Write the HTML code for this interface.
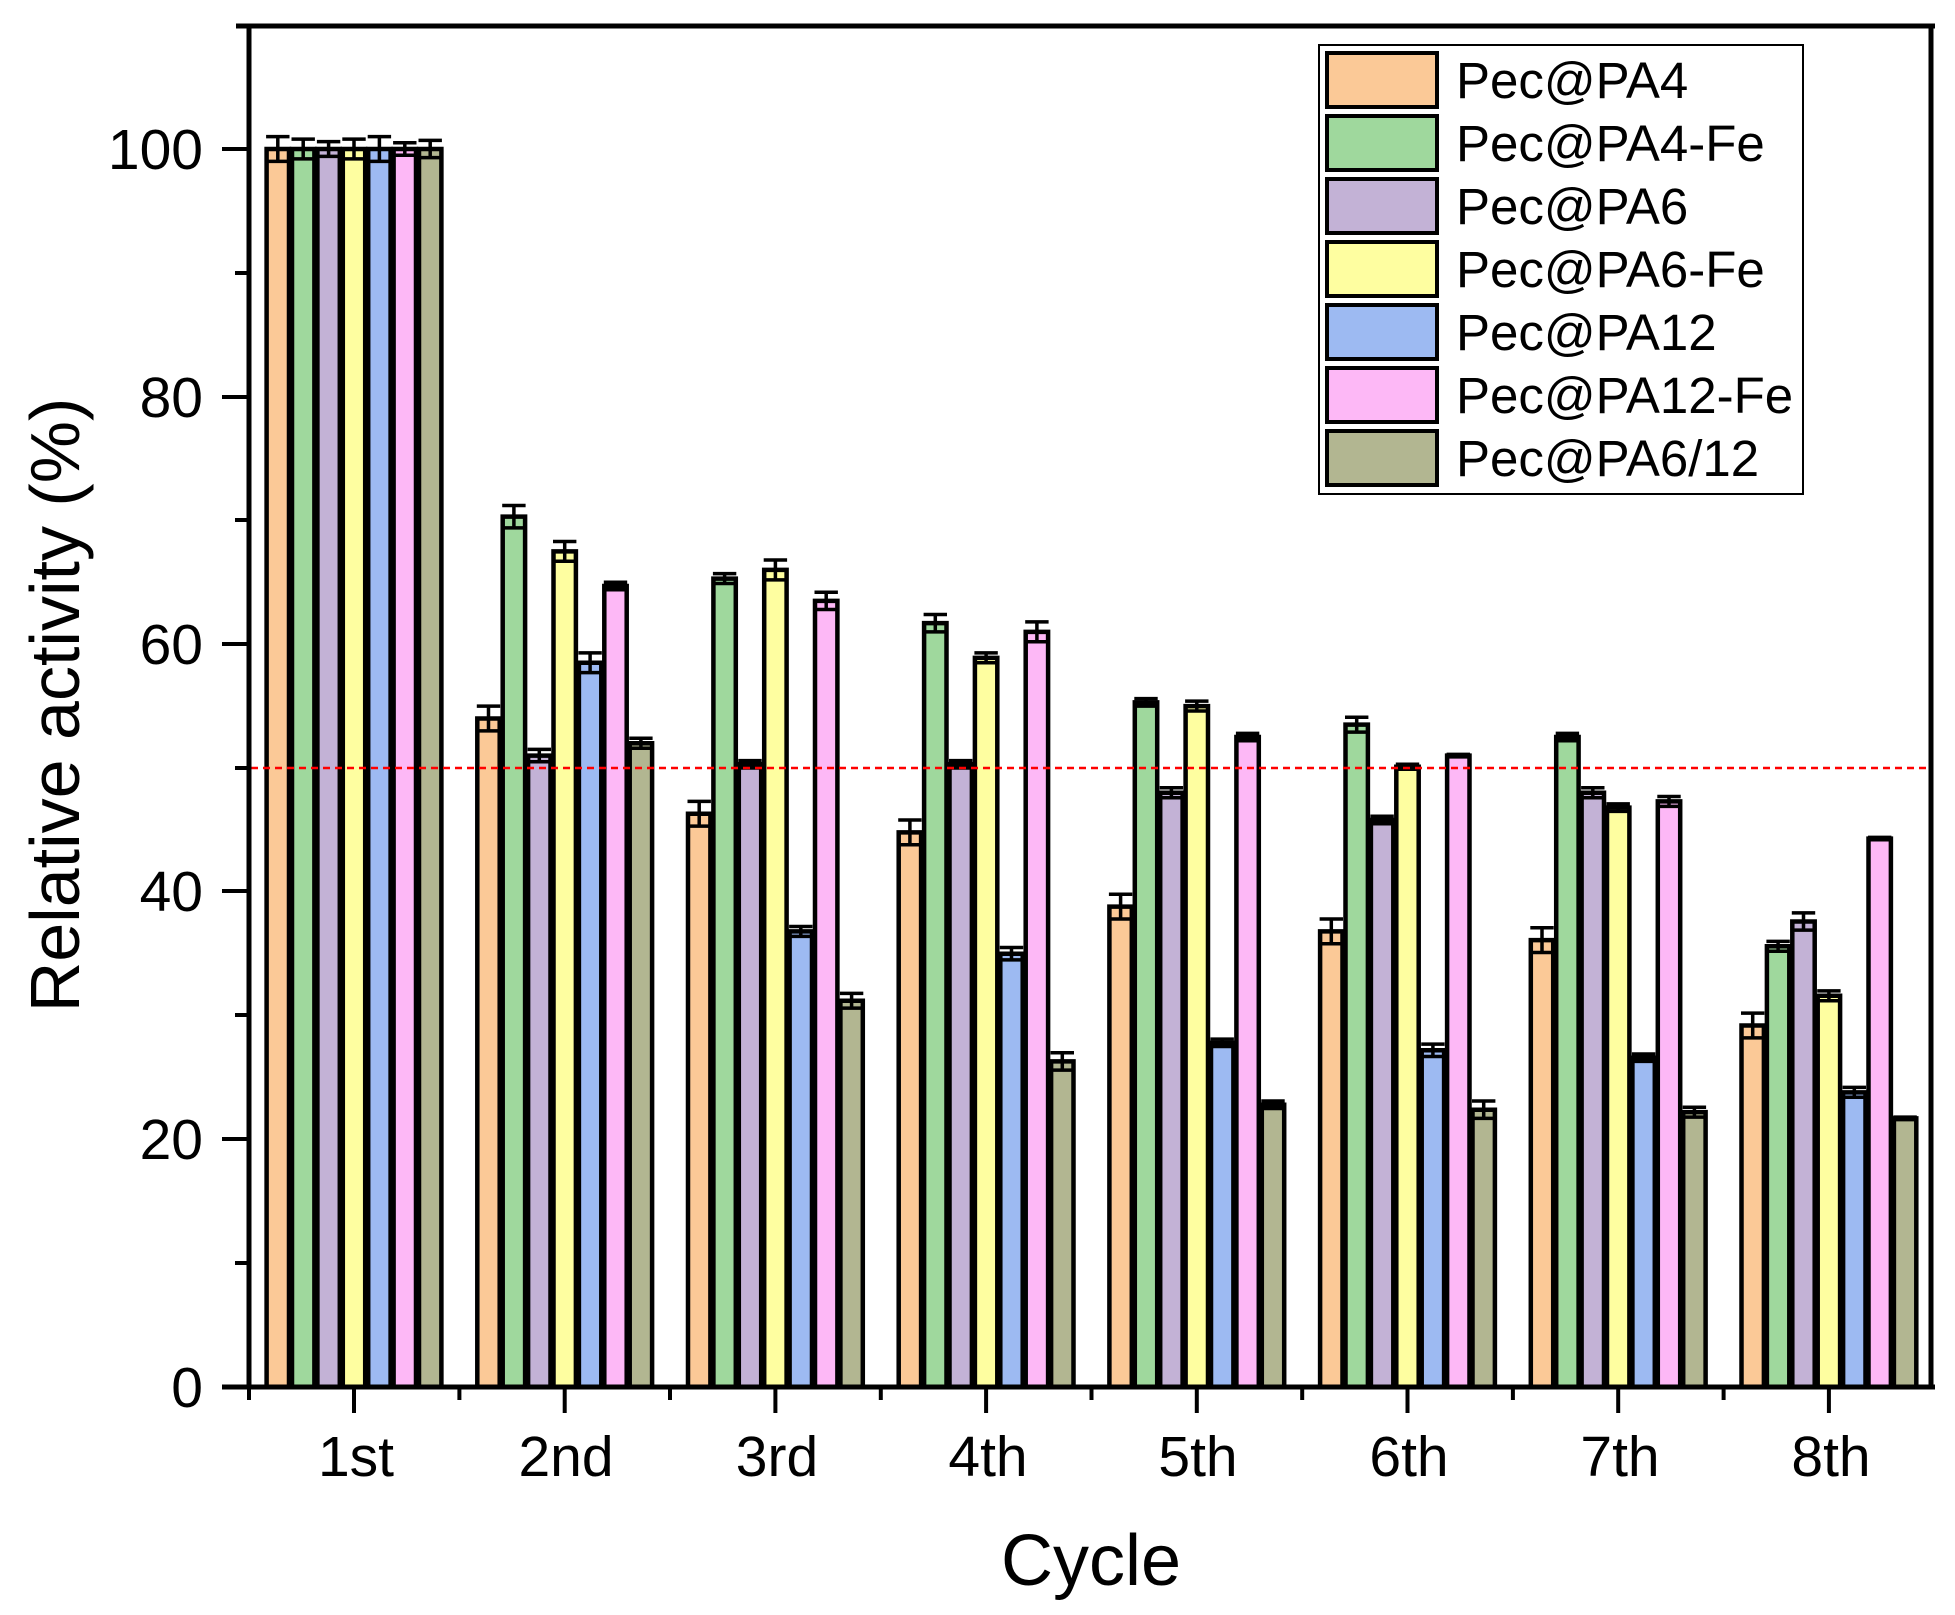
<!DOCTYPE html>
<html><head><meta charset="utf-8"><style>
html,body{margin:0;padding:0;background:#fff;}
svg{display:block;font-family:"Liberation Sans",Arial,sans-serif;}
.b rect{stroke:#000;stroke-width:4.5;vector-effect:non-scaling-stroke;}
.b path{stroke:#000;stroke-width:3.5;fill:none;vector-effect:non-scaling-stroke;}
.a{fill:#fbc997}.c{fill:#9fd89d}.d{fill:#c3b2d6}.e{fill:#fefea0}.f{fill:#9dbaf2}.g{fill:#fdb8f6}.h{fill:#b2b691}
</style></head><body>
<svg width="1955" height="1615" viewBox="0 0 1955 1615" xmlns="http://www.w3.org/2000/svg">
<g class="b">
<g transform="translate(265.1,1387) scale(1,-12.38)">
<g class="a"><rect x="1.5" y="0" width="22.4" height="100"/><path d="M12.7 99V101M1 101H24.4M1 99H24.4"/></g>
<g class="c" transform="translate(25.4,0)"><rect x="1.5" y="0" width="22.4" height="100"/><path d="M12.7 99.2V100.8M1 100.8H24.4M1 99.2H24.4"/></g>
<g class="d" transform="translate(50.8,0)"><rect x="1.5" y="0" width="22.4" height="100"/><path d="M12.7 99.4V100.6M1 100.6H24.4M1 99.4H24.4"/></g>
<g class="e" transform="translate(76.2,0)"><rect x="1.5" y="0" width="22.4" height="100"/><path d="M12.7 99.2V100.8M1 100.8H24.4M1 99.2H24.4"/></g>
<g class="f" transform="translate(101.6,0)"><rect x="1.5" y="0" width="22.4" height="100"/><path d="M12.7 99V101M1 101H24.4M1 99H24.4"/></g>
<g class="g" transform="translate(127,0)"><rect x="1.5" y="0" width="22.4" height="100"/><path d="M12.7 99.5V100.5M1 100.5H24.4M1 99.5H24.4"/></g>
<g class="h" transform="translate(152.4,0)"><rect x="1.5" y="0" width="22.4" height="100"/><path d="M12.7 99.3V100.7M1 100.7H24.4M1 99.3H24.4"/></g>
</g>
<g transform="translate(475.8,1387) scale(1,-12.38)">
<g class="a"><rect x="1.5" y="0" width="22.4" height="54"/><path d="M12.7 53V55M1 55H24.4M1 53H24.4"/></g>
<g class="c" transform="translate(25.4,0)"><rect x="1.5" y="0" width="22.4" height="70.3"/><path d="M12.7 69.4V71.2M1 71.2H24.4M1 69.4H24.4"/></g>
<g class="d" transform="translate(50.8,0)"><rect x="1.5" y="0" width="22.4" height="51"/><path d="M12.7 50.5V51.5M1 51.5H24.4M1 50.5H24.4"/></g>
<g class="e" transform="translate(76.2,0)"><rect x="1.5" y="0" width="22.4" height="67.5"/><path d="M12.7 66.7V68.3M1 68.3H24.4M1 66.7H24.4"/></g>
<g class="f" transform="translate(101.6,0)"><rect x="1.5" y="0" width="22.4" height="58.5"/><path d="M12.7 57.7V59.3M1 59.3H24.4M1 57.7H24.4"/></g>
<g class="g" transform="translate(127,0)"><rect x="1.5" y="0" width="22.4" height="64.7"/><path d="M12.7 64.4V65M1 65H24.4M1 64.4H24.4"/></g>
<g class="h" transform="translate(152.4,0)"><rect x="1.5" y="0" width="22.4" height="52"/><path d="M12.7 51.6V52.4M1 52.4H24.4M1 51.6H24.4"/></g>
</g>
<g transform="translate(686.5,1387) scale(1,-12.38)">
<g class="a"><rect x="1.5" y="0" width="22.4" height="46.3"/><path d="M12.7 45.3V47.3M1 47.3H24.4M1 45.3H24.4"/></g>
<g class="c" transform="translate(25.4,0)"><rect x="1.5" y="0" width="22.4" height="65.3"/><path d="M12.7 64.9V65.7M1 65.7H24.4M1 64.9H24.4"/></g>
<g class="d" transform="translate(50.8,0)"><rect x="1.5" y="0" width="22.4" height="50.3"/><path d="M12.7 50V50.6M1 50.6H24.4M1 50H24.4"/></g>
<g class="e" transform="translate(76.2,0)"><rect x="1.5" y="0" width="22.4" height="66"/><path d="M12.7 65.2V66.8M1 66.8H24.4M1 65.2H24.4"/></g>
<g class="f" transform="translate(101.6,0)"><rect x="1.5" y="0" width="22.4" height="36.8"/><path d="M12.7 36.4V37.2M1 37.2H24.4M1 36.4H24.4"/></g>
<g class="g" transform="translate(127,0)"><rect x="1.5" y="0" width="22.4" height="63.5"/><path d="M12.7 62.8V64.2M1 64.2H24.4M1 62.8H24.4"/></g>
<g class="h" transform="translate(152.4,0)"><rect x="1.5" y="0" width="22.4" height="31.2"/><path d="M12.7 30.6V31.8M1 31.8H24.4M1 30.6H24.4"/></g>
</g>
<g transform="translate(897.2,1387) scale(1,-12.38)">
<g class="a"><rect x="1.5" y="0" width="22.4" height="44.8"/><path d="M12.7 43.8V45.8M1 45.8H24.4M1 43.8H24.4"/></g>
<g class="c" transform="translate(25.4,0)"><rect x="1.5" y="0" width="22.4" height="61.7"/><path d="M12.7 61V62.4M1 62.4H24.4M1 61H24.4"/></g>
<g class="d" transform="translate(50.8,0)"><rect x="1.5" y="0" width="22.4" height="50.3"/><path d="M12.7 50V50.6M1 50.6H24.4M1 50H24.4"/></g>
<g class="e" transform="translate(76.2,0)"><rect x="1.5" y="0" width="22.4" height="58.9"/><path d="M12.7 58.5V59.3M1 59.3H24.4M1 58.5H24.4"/></g>
<g class="f" transform="translate(101.6,0)"><rect x="1.5" y="0" width="22.4" height="35"/><path d="M12.7 34.5V35.5M1 35.5H24.4M1 34.5H24.4"/></g>
<g class="g" transform="translate(127,0)"><rect x="1.5" y="0" width="22.4" height="61"/><path d="M12.7 60.2V61.8M1 61.8H24.4M1 60.2H24.4"/></g>
<g class="h" transform="translate(152.4,0)"><rect x="1.5" y="0" width="22.4" height="26.3"/><path d="M12.7 25.6V27M1 27H24.4M1 25.6H24.4"/></g>
</g>
<g transform="translate(1107.9,1387) scale(1,-12.38)">
<g class="a"><rect x="1.5" y="0" width="22.4" height="38.8"/><path d="M12.7 37.8V39.8M1 39.8H24.4M1 37.8H24.4"/></g>
<g class="c" transform="translate(25.4,0)"><rect x="1.5" y="0" width="22.4" height="55.3"/><path d="M12.7 55V55.6M1 55.6H24.4M1 55H24.4"/></g>
<g class="d" transform="translate(50.8,0)"><rect x="1.5" y="0" width="22.4" height="48"/><path d="M12.7 47.6V48.4M1 48.4H24.4M1 47.6H24.4"/></g>
<g class="e" transform="translate(76.2,0)"><rect x="1.5" y="0" width="22.4" height="55"/><path d="M12.7 54.6V55.4M1 55.4H24.4M1 54.6H24.4"/></g>
<g class="f" transform="translate(101.6,0)"><rect x="1.5" y="0" width="22.4" height="27.8"/><path d="M12.7 27.5V28.1M1 28.1H24.4M1 27.5H24.4"/></g>
<g class="g" transform="translate(127,0)"><rect x="1.5" y="0" width="22.4" height="52.5"/><path d="M12.7 52.2V52.8M1 52.8H24.4M1 52.2H24.4"/></g>
<g class="h" transform="translate(152.4,0)"><rect x="1.5" y="0" width="22.4" height="22.8"/><path d="M12.7 22.5V23.1M1 23.1H24.4M1 22.5H24.4"/></g>
</g>
<g transform="translate(1318.6,1387) scale(1,-12.38)">
<g class="a"><rect x="1.5" y="0" width="22.4" height="36.8"/><path d="M12.7 35.8V37.8M1 37.8H24.4M1 35.8H24.4"/></g>
<g class="c" transform="translate(25.4,0)"><rect x="1.5" y="0" width="22.4" height="53.5"/><path d="M12.7 52.9V54.1M1 54.1H24.4M1 52.9H24.4"/></g>
<g class="d" transform="translate(50.8,0)"><rect x="1.5" y="0" width="22.4" height="45.8"/><path d="M12.7 45.5V46.1M1 46.1H24.4M1 45.5H24.4"/></g>
<g class="e" transform="translate(76.2,0)"><rect x="1.5" y="0" width="22.4" height="50.1"/><path d="M12.7 49.9V50.3M1 50.3H24.4M1 49.9H24.4"/></g>
<g class="f" transform="translate(101.6,0)"><rect x="1.5" y="0" width="22.4" height="27.2"/><path d="M12.7 26.7V27.7M1 27.7H24.4M1 26.7H24.4"/></g>
<g class="g" transform="translate(127,0)"><rect x="1.5" y="0" width="22.4" height="51"/><path d="M12.7 50.9V51.1M1 51.1H24.4M1 50.9H24.4"/></g>
<g class="h" transform="translate(152.4,0)"><rect x="1.5" y="0" width="22.4" height="22.4"/><path d="M12.7 21.7V23.1M1 23.1H24.4M1 21.7H24.4"/></g>
</g>
<g transform="translate(1529.3,1387) scale(1,-12.38)">
<g class="a"><rect x="1.5" y="0" width="22.4" height="36.1"/><path d="M12.7 35.1V37.1M1 37.1H24.4M1 35.1H24.4"/></g>
<g class="c" transform="translate(25.4,0)"><rect x="1.5" y="0" width="22.4" height="52.5"/><path d="M12.7 52.2V52.8M1 52.8H24.4M1 52.2H24.4"/></g>
<g class="d" transform="translate(50.8,0)"><rect x="1.5" y="0" width="22.4" height="48"/><path d="M12.7 47.6V48.4M1 48.4H24.4M1 47.6H24.4"/></g>
<g class="e" transform="translate(76.2,0)"><rect x="1.5" y="0" width="22.4" height="46.8"/><path d="M12.7 46.5V47.1M1 47.1H24.4M1 46.5H24.4"/></g>
<g class="f" transform="translate(101.6,0)"><rect x="1.5" y="0" width="22.4" height="26.6"/><path d="M12.7 26.3V26.9M1 26.9H24.4M1 26.3H24.4"/></g>
<g class="g" transform="translate(127,0)"><rect x="1.5" y="0" width="22.4" height="47.3"/><path d="M12.7 46.9V47.7M1 47.7H24.4M1 46.9H24.4"/></g>
<g class="h" transform="translate(152.4,0)"><rect x="1.5" y="0" width="22.4" height="22.2"/><path d="M12.7 21.8V22.6M1 22.6H24.4M1 21.8H24.4"/></g>
</g>
<g transform="translate(1740,1387) scale(1,-12.38)">
<g class="a"><rect x="1.5" y="0" width="22.4" height="29.2"/><path d="M12.7 28.2V30.2M1 30.2H24.4M1 28.2H24.4"/></g>
<g class="c" transform="translate(25.4,0)"><rect x="1.5" y="0" width="22.4" height="35.6"/><path d="M12.7 35.2V36M1 36H24.4M1 35.2H24.4"/></g>
<g class="d" transform="translate(50.8,0)"><rect x="1.5" y="0" width="22.4" height="37.6"/><path d="M12.7 36.9V38.3M1 38.3H24.4M1 36.9H24.4"/></g>
<g class="e" transform="translate(76.2,0)"><rect x="1.5" y="0" width="22.4" height="31.6"/><path d="M12.7 31.2V32M1 32H24.4M1 31.2H24.4"/></g>
<g class="f" transform="translate(101.6,0)"><rect x="1.5" y="0" width="22.4" height="23.8"/><path d="M12.7 23.4V24.2M1 24.2H24.4M1 23.4H24.4"/></g>
<g class="g" transform="translate(127,0)"><rect x="1.5" y="0" width="22.4" height="44.3"/><path d="M12.7 44.2V44.4M1 44.4H24.4M1 44.2H24.4"/></g>
<g class="h" transform="translate(152.4,0)"><rect x="1.5" y="0" width="22.4" height="21.7"/><path d="M12.7 21.6V21.8M1 21.8H24.4M1 21.6H24.4"/></g>
</g>
</g>
<!-- red dashed line -->
<line x1="251" x2="1931" y1="768" y2="768" stroke="#ff0000" stroke-width="2.5" stroke-dasharray="7,5"/>
<!-- frame -->
<line x1="236" x2="1935" y1="26" y2="26" stroke="#000" stroke-width="5"/>
<line x1="1931" x2="1931" y1="24" y2="1389" stroke="#000" stroke-width="5"/>
<line x1="249" x2="249" y1="24" y2="1389" stroke="#000" stroke-width="5"/>
<line x1="222" x2="1935" y1="1387" y2="1387" stroke="#000" stroke-width="5"/>
<!-- y ticks -->
<g stroke="#000" stroke-width="4">
<line x1="222" x2="249" y1="1387" y2="1387"/><line x1="222" x2="249" y1="1139" y2="1139"/>
<line x1="222" x2="249" y1="891" y2="891"/><line x1="222" x2="249" y1="644" y2="644"/>
<line x1="222" x2="249" y1="397" y2="397"/><line x1="222" x2="249" y1="149" y2="149"/>
<line x1="235" x2="249" y1="1263" y2="1263"/><line x1="235" x2="249" y1="1015" y2="1015"/>
<line x1="235" x2="249" y1="768" y2="768"/><line x1="235" x2="249" y1="520" y2="520"/>
<line x1="235" x2="249" y1="273" y2="273"/>
</g>
<g font-size="57" text-anchor="end" fill="#000">
<text x="203" y="1407">0</text><text x="203" y="1159">20</text><text x="203" y="911">40</text>
<text x="203" y="664">60</text><text x="203" y="417">80</text><text x="203" y="169">100</text>
</g>
<!-- x ticks -->
<g stroke="#000" stroke-width="4">
<line x1="354" x2="354" y1="1387" y2="1413"/><line x1="564.7" x2="564.7" y1="1387" y2="1413"/>
<line x1="775.4" x2="775.4" y1="1387" y2="1413"/><line x1="986.1" x2="986.1" y1="1387" y2="1413"/>
<line x1="1196.8" x2="1196.8" y1="1387" y2="1413"/><line x1="1407.5" x2="1407.5" y1="1387" y2="1413"/>
<line x1="1618.2" x2="1618.2" y1="1387" y2="1413"/><line x1="1828.9" x2="1828.9" y1="1387" y2="1413"/>
<line x1="249" x2="249" y1="1387" y2="1400"/><line x1="459.4" x2="459.4" y1="1387" y2="1400"/>
<line x1="670" x2="670" y1="1387" y2="1400"/><line x1="880.8" x2="880.8" y1="1387" y2="1400"/>
<line x1="1091.5" x2="1091.5" y1="1387" y2="1400"/><line x1="1302.2" x2="1302.2" y1="1387" y2="1400"/>
<line x1="1512.9" x2="1512.9" y1="1387" y2="1400"/><line x1="1723.6" x2="1723.6" y1="1387" y2="1400"/>
</g>
<g font-size="57" text-anchor="middle" fill="#000">
<text x="356" y="1476">1st</text><text x="566" y="1476">2nd</text><text x="777" y="1476">3rd</text>
<text x="988" y="1476">4th</text><text x="1198" y="1476">5th</text><text x="1409" y="1476">6th</text>
<text x="1620" y="1476">7th</text><text x="1831" y="1476">8th</text>
</g>
<text x="1091" y="1585" font-size="72" text-anchor="middle">Cycle</text>
<text transform="translate(79,705) rotate(-90)" font-size="70" text-anchor="middle">Relative activity (%)</text>
<!-- legend -->
<rect x="1319" y="45" width="484" height="449" fill="#fff" stroke="#000" stroke-width="2"/>
<g stroke="#000" stroke-width="4">
<rect x="1327" y="53" width="110" height="54" fill="#fbc997"/>
<rect x="1327" y="116" width="110" height="54" fill="#9fd89d"/>
<rect x="1327" y="179" width="110" height="54" fill="#c3b2d6"/>
<rect x="1327" y="242" width="110" height="54" fill="#fefea0"/>
<rect x="1327" y="305" width="110" height="54" fill="#9dbaf2"/>
<rect x="1327" y="368" width="110" height="54" fill="#fdb8f6"/>
<rect x="1327" y="431" width="110" height="54" fill="#b2b691"/>
</g>
<g font-size="51" fill="#000">
<text x="1456" y="98">Pec@PA4</text>
<text x="1456" y="161">Pec@PA4-Fe</text>
<text x="1456" y="224">Pec@PA6</text>
<text x="1456" y="287">Pec@PA6-Fe</text>
<text x="1456" y="350">Pec@PA12</text>
<text x="1456" y="413">Pec@PA12-Fe</text>
<text x="1456" y="476">Pec@PA6/12</text>
</g>
</svg>
</body></html>
